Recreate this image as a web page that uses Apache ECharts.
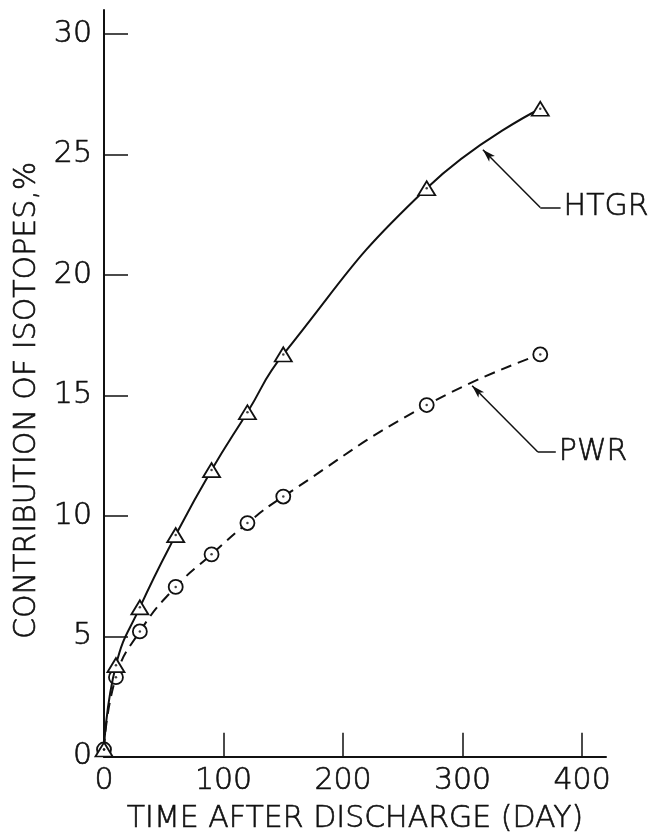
<!DOCTYPE html>
<html>
<head>
<meta charset="utf-8">
<script src="https://cdn.jsdelivr.net/npm/echarts@6/dist/echarts.min.js"></script>
<style>
html,body{margin:0;padding:0;background:#fff;}
#chart{width:659px;height:840px;}
</style>
</head>
<body>
<div id="chart"></div>
<script>
// Days after discharge
const days = [0, 10, 30, 60, 90, 120, 150, 270, 365];
// Contribution of isotopes, %
const htgr = [0.3, 3.8, 6.2, 9.2, 11.9, 14.3, 16.7, 23.6, 26.9];
const pwr  = [0.3, 3.3, 5.2, 7.05, 8.4, 9.7, 10.8, 14.6, 16.7];
const xTicks = [0, 100, 200, 300, 400];
const yTicks = [0, 5, 10, 15, 20, 25, 30];
const seriesNames = ['HTGR', 'PWR'];

const FONT = 'DejaVu Sans';
const WEIGHT = 200;
const INK = '#111';
const TXT = {fontFamily: FONT, fontWeight: WEIGHT, fontSize: 30, color: INK, textBorderColor: INK, textBorderWidth: 0.6};

function pairs(ys){ return days.map((d,i)=>[d, ys[i]]); }

function leader(tip, elbow, end, name){
  return {
    silent: true,
    animation: false,
    symbol: ['none','none'],
    lineStyle: {color: INK, width: 1.5, type: 'solid'},
    label: {show: false},
    emphasis: {disabled: true},
    data: [
      [{coord: tip, symbol: 'arrow', symbolSize: [6, 13]}, {coord: elbow, symbol: 'none'}],
      [{coord: elbow, symbol: 'none'}, {coord: end, symbol: 'none',
        label: Object.assign({show: true, position: 'end', formatter: name, distance: 3}, TXT)}]
    ]
  };
}

const chart = echarts.init(document.getElementById('chart'), null, {renderer: 'canvas'});
chart.setOption({
  animation: false,
  backgroundColor: '#fff',
  grid: {left: 104, right: 53, top: 10, bottom: 83, containLabel: false},
  xAxis: {
    type: 'value', min: 0, max: 420,
    name: 'TIME AFTER DISCHARGE (DAY)', nameLocation: 'middle', nameGap: 48,
    nameTextStyle: Object.assign({}, TXT),
    axisLine: {show: true, lineStyle: {color: INK, width: 2}},
    axisTick: {show: true, inside: true, length: 24, customValues: xTicks, lineStyle: {color: INK, width: 1.5}},
    axisLabel: Object.assign({show: true, customValues: xTicks, margin: 10}, TXT),
    splitLine: {show: false}
  },
  yAxis: {
    type: 'value', min: 0, max: 31,
    name: 'CONTRIBUTION OF ISOTOPES,%', nameLocation: 'middle', nameGap: 62, nameRotate: 90,
    nameTextStyle: Object.assign({padding: [0, 34, 0, 0]}, TXT),
    axisLine: {show: true, lineStyle: {color: INK, width: 2}},
    axisTick: {show: true, inside: true, length: 24, customValues: yTicks, lineStyle: {color: INK, width: 1.5}},
    axisLabel: Object.assign({show: true, customValues: yTicks, margin: 12}, TXT),
    splitLine: {show: false}
  },
  series: [
    {
      name: seriesNames[0], type: 'line', data: pairs(htgr),
      smooth: 0.5,
      lineStyle: {color: INK, width: 2, type: 'solid'},
      symbol: 'triangle', symbolSize: [17, 14], showSymbol: true,
      itemStyle: {color: '#fff', borderColor: INK, borderWidth: 1.8},
      z: 3,
      markLine: leader([317, 25.2], [365, 22.8], [382, 22.8], seriesNames[0])
    },
    {
      name: seriesNames[1], type: 'line', data: pairs(pwr),
      smooth: 0.5,
      lineStyle: {color: INK, width: 2, type: [11, 7]},
      symbol: 'circle', symbolSize: 14, showSymbol: true,
      itemStyle: {color: '#fff', borderColor: INK, borderWidth: 1.8},
      z: 2,
      markLine: leader([308, 15.4], [363, 12.65], [378, 12.65], seriesNames[1])
    },
    {
      type: 'scatter', data: pairs(htgr), symbol: 'circle', symbolSize: 2.5,
      itemStyle: {color: INK}, z: 5, silent: true
    },
    {
      type: 'scatter', data: pairs(pwr), symbol: 'circle', symbolSize: 2.5,
      itemStyle: {color: INK}, z: 5, silent: true
    }
  ]
});
</script>
</body>
</html>
